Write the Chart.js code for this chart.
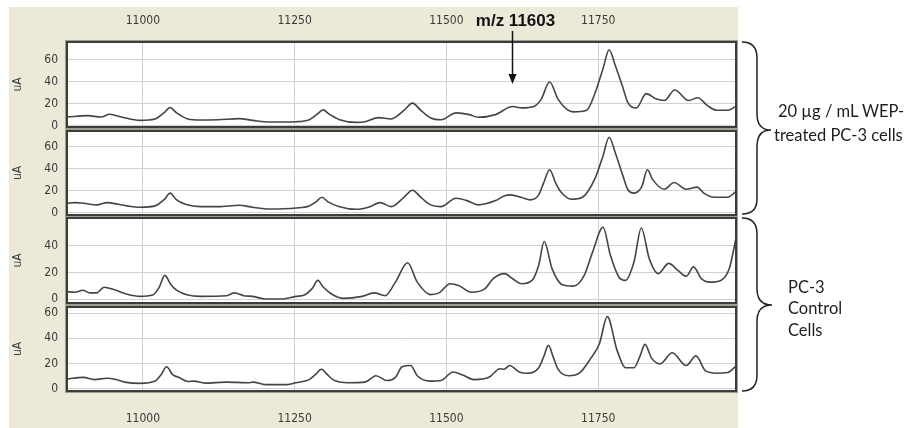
<!DOCTYPE html>
<html>
<head>
<meta charset="utf-8">
<script src="https://cdn.jsdelivr.net/npm/chart.js@4.4.1/dist/chart.umd.min.js"></script>
<style>
  html, body { margin: 0; padding: 0; background: #fff; }
  body { width: 906px; height: 428px; position: relative; overflow: hidden; }
  #frame { position: absolute; left: 9px; top: 7px; width: 729px; height: 421px; background: #ECE9D8; }
  .panel { position: absolute; left: 9px; width: 729px; }
  .note { position: absolute; font-family: Lato, "Open Sans", sans-serif; font-size: 16.5px; line-height: 20px; color: #1e1e1e; white-space: nowrap; }
  svg { position: absolute; left: 0; top: 0; }
</style>
</head>
<body>
<div id="frame"></div>
<div class="panel" style="top:7px;height:122px"><canvas id="c1"></canvas></div>
<div class="panel" style="top:129px;height:88px"><canvas id="c2"></canvas></div>
<div class="panel" style="top:216px;height:89px"><canvas id="c3"></canvas></div>
<div class="panel" style="top:305px;height:123px"><canvas id="c4"></canvas></div>

<svg width="906" height="428">
  <path d="M742 42 Q757 42 757 58 L757 114 Q757 130 771 130 Q757 130 757 146 L757 199 Q757 214 742 214" fill="none" stroke="#222" stroke-width="1.5"/>
  <path d="M742 218 Q757 218 757 234 L757 289 Q757 305 772 305 Q757 305 757 321 L757 375 Q757 391 742 391" fill="none" stroke="#222" stroke-width="1.5"/>
</svg>
<div class="note" style="left:778px;top:101px">20 µg / mL WEP-</div>
<div class="note" style="left:774px;top:125px">treated PC-3 cells</div>
<div class="note" style="left:788px;top:277px">PC-3</div>
<div class="note" style="left:788px;top:298px">Control</div>
<div class="note" style="left:788px;top:320px">Cells</div>

<script>
// m/z axis
const mzMin = 10875;
const mzMax = 11977;
const mzTicks = [11000, 11250, 11500, 11750];

// panel 1: 20 ug/mL WEP-treated, spectrum A
const mz1 = [10875,10909,10931,10945,10966,10995,11020,11035,11045,11055,11074,11095,11124,11159,11181,11209,11252,11274,11288,11297,11306,11324,11352,11366,11388,11409,11430,11444,11458,11474,11491,11516,11538,11552,11581,11609,11624,11645,11656,11670,11684,11699,11709,11731,11745,11758,11768,11778,11790,11799,11813,11829,11845,11859,11876,11899,11914,11931,11945,11963,11977];
const ua1 = [8,9.3,8,10.5,7.8,5,6.3,12,16.6,12,6.3,5.3,5.6,6.6,5,3.5,3.8,5.6,11,14.5,11,5.6,3.2,3.8,7.5,6.3,14,20.6,14,7.2,5.6,11.8,10.2,7.8,10.2,17.6,16.3,17.9,24,39.8,24,14.8,12.7,14.2,30,52,69,55,36,21,16.3,29.2,24.6,23,32.5,23,25.5,17.9,14.2,14.2,17.9];

// panel 2: 20 ug/mL WEP-treated, spectrum B
const mz2 = [10875,10888,10902,10924,10941,10959,10974,10995,11020,11035,11045,11055,11070,11095,11124,11159,11181,11209,11252,11274,11285,11295,11305,11324,11352,11374,11391,11409,11430,11444,11458,11474,11491,11516,11534,11552,11581,11595,11606,11624,11638,11652,11660,11670,11680,11688,11706,11724,11745,11758,11768,11778,11790,11799,11809,11822,11831,11840,11859,11875,11895,11913,11924,11941,11963,11977];
const ua2 = [8.7,9.3,8.7,7.2,9.3,7.8,6.3,5,6.3,12,17.9,12,7.8,5.6,5.6,6.9,5,3.5,4.4,6.3,10,14.2,10,5.6,3.2,5.6,9.3,5.6,14,20.6,14,7.2,5.6,13.3,11.1,7.2,11.1,15.4,16.3,13.9,11.8,16.3,27,39.2,27,19.4,12.4,14.2,31.6,52,68.8,55,35,21,17.9,24,39.2,30,21.5,27.6,21.5,23.4,17.9,14.2,14.2,19.4];

// panel 3: PC-3 control, spectrum A
const mz3 = [10875,10888,10901,10913,10924,10936,10952,10974,10995,11016,11027,11036,11046,11056,11074,11095,11138,11151,11166,11181,11202,11231,11252,11266,11279,11288,11297,11310,11331,11359,11381,11399,11416,11436,11452,11474,11488,11506,11520,11541,11563,11577,11596,11609,11624,11641,11652,11661,11674,11691,11709,11727,11741,11758,11770,11784,11795,11809,11821,11834,11849,11866,11881,11895,11907,11920,11934,11952,11966,11977];
const ua3 = [5.6,5.1,6.6,4.6,4.6,8.9,7.1,3.6,2,3,9,17.8,11,6.5,3,2,2.5,4.6,2.5,2,0,0,2,3,8,14,9,4,0.5,1.8,4.6,2.5,12.7,27.3,12.7,3.3,4.6,11.5,10.2,5.1,7.6,15.3,19.1,15.3,11.5,14,25.5,43.3,22.9,10.7,9.7,17.8,35.7,54,33.1,16.6,14,28,53.5,30.6,19.1,26.8,21.7,17.1,24.2,15.3,12.7,14,22.9,45.9];

// panel 4: PC-3 control, spectrum B
const mz4 = [10875,10902,10920,10941,10956,10970,10995,11020,11030,11039,11049,11059,11074,11084,11102,11138,11174,11181,11202,11238,11252,11274,11284,11294,11304,11313,11338,11366,11384,11402,11416,11427,11441,11452,11474,11491,11511,11527,11545,11570,11588,11595,11604,11620,11634,11652,11660,11668,11676,11684,11702,11720,11738,11752,11765,11781,11795,11809,11819,11827,11838,11852,11872,11895,11911,11927,11945,11963,11977];
const ua4 = [7.6,8.9,7.1,8.2,7.1,5.1,4.1,5.9,11,17.3,11,8.9,5.6,5.9,4.3,5.1,4.6,5.1,3.1,3.1,4.6,7.1,11,15.3,11,7.1,4.6,5.1,10.2,6.4,8.9,17.3,18.3,10.2,5.9,6.4,13.2,10.7,7.1,8.9,15.8,15.3,18.3,13.2,12.2,16.6,25,34.4,25,15.3,10.2,12.7,24.2,35.7,57.3,30.6,16.6,16.6,26,35.2,24.2,19.6,28.5,18.3,26,14,12.2,12.7,17.8];

// y tick labels per panel
const uaTicks1 = [0, 20, 40, 60];
const uaTicks2 = [0, 20, 40, 60];
const uaTicks3 = [0, 20, 40];
const uaTicks4 = [0, 20, 40, 60];

// arrow annotation
const noteText = 'm/z 11603';
const noteMz = 11603;
const noteTipUa = 38;

const tickFont = { family: "'Liberation Sans Narrow', 'DejaVu Sans Condensed', sans-serif", size: 12 };
const tickColor = '#3a3a3a';
const gridColor = '#d0d0d0';

// white plot area and the dark double border round it
const panelFrame = {
    id: 'panelFrame',
    beforeDraw(chart) {
        const { ctx, chartArea: a } = chart;
        ctx.save();
        ctx.fillStyle = '#fff';
        ctx.fillRect(a.left, a.top, a.width, a.height);
        ctx.restore();
    },
    afterDatasetsDraw(chart) {
        const { ctx, chartArea: a } = chart;
        ctx.save();
        ctx.strokeStyle = '#a09e90';
        ctx.lineWidth = 1;
        ctx.strokeRect(a.left - 1.5, a.top - 1.5, a.width + 3, a.height + 3);
        ctx.strokeStyle = '#3c3c3c';
        ctx.lineWidth = 2;
        ctx.strokeRect(a.left, a.top, a.width, a.height);
        ctx.restore();
    }
};

const arrowNote = {
    id: 'arrowNote',
    afterDraw(chart) {
        const { ctx } = chart;
        const x = Math.round(chart.scales.x.getPixelForValue(noteMz)) + 3.5;
        const tip = chart.scales.y.getPixelForValue(noteTipUa);
        ctx.save();
        ctx.fillStyle = '#111';
        ctx.strokeStyle = '#111';
        ctx.font = 'bold 17px "Liberation Sans", Arial, sans-serif';
        ctx.textAlign = 'center';
        ctx.textBaseline = 'middle';
        ctx.fillText(noteText, x + 3, 14);
        ctx.lineWidth = 1.5;
        ctx.beginPath();
        ctx.moveTo(x, 24);
        ctx.lineTo(x, tip - 8);
        ctx.stroke();
        ctx.beginPath();
        ctx.moveTo(x - 4, tip - 10);
        ctx.lineTo(x + 4, tip - 10);
        ctx.lineTo(x, tip);
        ctx.closePath();
        ctx.fill();
        ctx.restore();
    }
};

function panelChart(id, mz, ua, yTicks, yMin, yMax, xPos, extra) {
    const xHeight = xPos === 'top' ? 35 : (xPos === 'bottom' ? 37 : 0);
    return new Chart(document.getElementById(id), {
        type: 'line',
        data: {
            datasets: [{
                data: mz.map((m, i) => ({ x: m, y: ua[i] })),
                borderColor: '#454545',
                borderWidth: 1.6,
                pointRadius: 0,
                cubicInterpolationMode: 'monotone',
                fill: false,
            }],
        },
        options: {
            animation: false,
            responsive: true,
            maintainAspectRatio: false,
            layout: {
                autoPadding: false,
                padding: { left: 0, right: 2, top: xPos === 'top' ? 0 : 2, bottom: xPos === 'bottom' ? 0 : 2 },
            },
            plugins: {
                legend: { display: false },
                tooltip: { enabled: false },
            },
            scales: {
                x: {
                    type: 'linear',
                    position: xPos || 'bottom',
                    min: mzMin,
                    max: mzMax,
                    afterBuildTicks: (s) => { s.ticks = mzTicks.map(v => ({ value: v })); },
                    afterFit: (s) => {
                        s.height = xHeight;
                        s.paddingLeft = 0; s.paddingRight = 0;
                    },
                    grid: { color: gridColor, drawTicks: false },
                    border: { display: false },
                    ticks: {
                        display: !!xPos,
                        padding: xPos === 'top' ? 14 : 21,
                        color: tickColor,
                        font: tickFont,
                        maxRotation: 0,
                        callback: (v) => String(v),
                    },
                },
                y: {
                    min: yMin,
                    max: yMax,
                    afterBuildTicks: (s) => { s.ticks = yTicks.map(v => ({ value: v })); },
                    afterFit: (s) => {
                        s.width = 58;
                        s.paddingTop = 0; s.paddingBottom = 0;
                    },
                    grid: { color: gridColor, drawTicks: false },
                    border: { display: false },
                    title: {
                        display: true,
                        text: 'uA',
                        color: tickColor,
                        font: tickFont,
                        padding: { top: 2, bottom: 0 },
                    },
                    ticks: {
                        padding: 9,
                        color: tickColor,
                        font: tickFont,
                        callback: (v) => String(v),
                    },
                },
            },
        },
        plugins: extra ? [panelFrame, extra] : [panelFrame],
    });
}

panelChart('c1', mz1, ua1, uaTicks1, -1, 76, 'top', arrowNote);
panelChart('c2', mz2, ua2, uaTicks2, -2, 74.5, null);
panelChart('c3', mz3, ua3, uaTicks3, -3, 61, null);
panelChart('c4', mz4, ua4, uaTicks4, -2, 65, 'bottom');
</script>
</body>
</html>
